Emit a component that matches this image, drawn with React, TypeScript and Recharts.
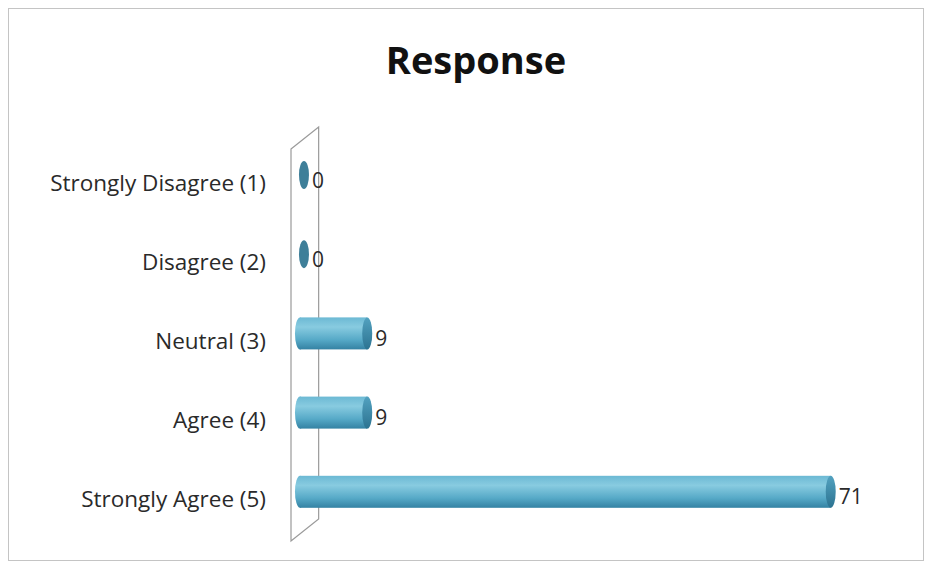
import { Bar, BarChart, LabelList, ReferenceArea, XAxis, YAxis } from "recharts";

const CATEGORIES = ["Strongly Disagree (1)", "Disagree (2)", "Neutral (3)", "Agree (4)", "Strongly Agree (5)"];
const RESPONSES = [0, 0, 9, 9, 71];

const data = CATEGORIES.map((c, i) => ({ category: c, value: RESPONSES[i] }));

const FONT = "'Open Sans', Lato, sans-serif";

function Cylinder(props: any) {
  const { x, y, width, height } = props;
  const ry = height / 2;
  const cy = y + ry;
  if (!width || width < 1) {
    return <ellipse cx={x + 4} cy={cy} rx={5} ry={ry - 2} fill="#3e7f99" />;
  }
  const rx = 5;
  return (
    <g>
      <rect x={x} y={y} width={width} height={height} fill="url(#cylBody)" />
      <ellipse cx={x} cy={cy} rx={rx} ry={ry} fill="url(#cylBody)" />
      <ellipse cx={x + width} cy={cy} rx={rx} ry={ry} fill="url(#cylCap)" />
    </g>
  );
}

function Wall(props: any) {
  const { x, y, width, height } = props;
  const pts = [
    [x, y + 14],
    [x + width, y - 8],
    [x + width, y + height - 12],
    [x, y + height + 10],
  ]
    .map((p) => p.join(","))
    .join(" ");
  return <polygon points={pts} fill="none" stroke="#9a9a9a" strokeWidth={1.2} />;
}

function CategoryTick(props: any) {
  const { x, y, payload } = props;
  return (
    <text x={x - 17} y={y + 10} textAnchor="end" dominantBaseline="middle" fontSize={22.5} fill="#2a2a2a" fontFamily={FONT}>
      {payload.value}
    </text>
  );
}

function ValueLabel(props: any) {
  const { x, y, width, height, value } = props;
  return (
    <text x={x + width + (width ? 8 : 12)} y={y + height / 2 + 7} dominantBaseline="middle" fontSize={21} fill="#2a2a2a" fontFamily={FONT}>
      {value}
    </text>
  );
}

export default function App() {
  return (
    <div style={{ position: "relative", width: 916, height: 553, border: "1px solid #c4c4c4", boxSizing: "border-box", background: "#fff" }}>
      <div
        style={{
          position: "absolute",
          top: 24,
          left: 10,
          width: "100%",
          textAlign: "center",
          fontFamily: FONT,
          fontWeight: 700,
          fontSize: 38,
          color: "#111",
        }}
      >
        Response
      </div>
      <BarChart
        width={916}
        height={553}
        data={data}
        layout="vertical"
        barSize={32}
        margin={{ top: 126, right: 27, bottom: 31, left: 0 }}
        style={{ position: "absolute", top: 0, left: 0 }}
      >
        <defs>
          <linearGradient id="cylBody" x1="0" y1="0" x2="0" y2="1">
            <stop offset="0%" stopColor="#6cb9d4" />
            <stop offset="30%" stopColor="#88cbe0" />
            <stop offset="70%" stopColor="#56a9c7" />
            <stop offset="100%" stopColor="#3482a3" />
          </linearGradient>
          <linearGradient id="cylCap" x1="0" y1="0" x2="0" y2="1">
            <stop offset="0%" stopColor="#53a2c0" />
            <stop offset="100%" stopColor="#2c7391" />
          </linearGradient>
        </defs>
        <XAxis type="number" domain={[-1.2, 80]} allowDataOverflow hide />
        <YAxis
          type="category"
          dataKey="category"
          width={282}
          axisLine={false}
          tickLine={false}
          tick={<CategoryTick />}
          interval={0}
        />
        <ReferenceArea x1={-1.2} x2={2.5} shape={<Wall />} ifOverflow="visible" />
        <Bar dataKey="value" shape={<Cylinder />} isAnimationActive={false}>
          <LabelList dataKey="value" content={<ValueLabel />} />
        </Bar>
      </BarChart>
    </div>
  );
}
